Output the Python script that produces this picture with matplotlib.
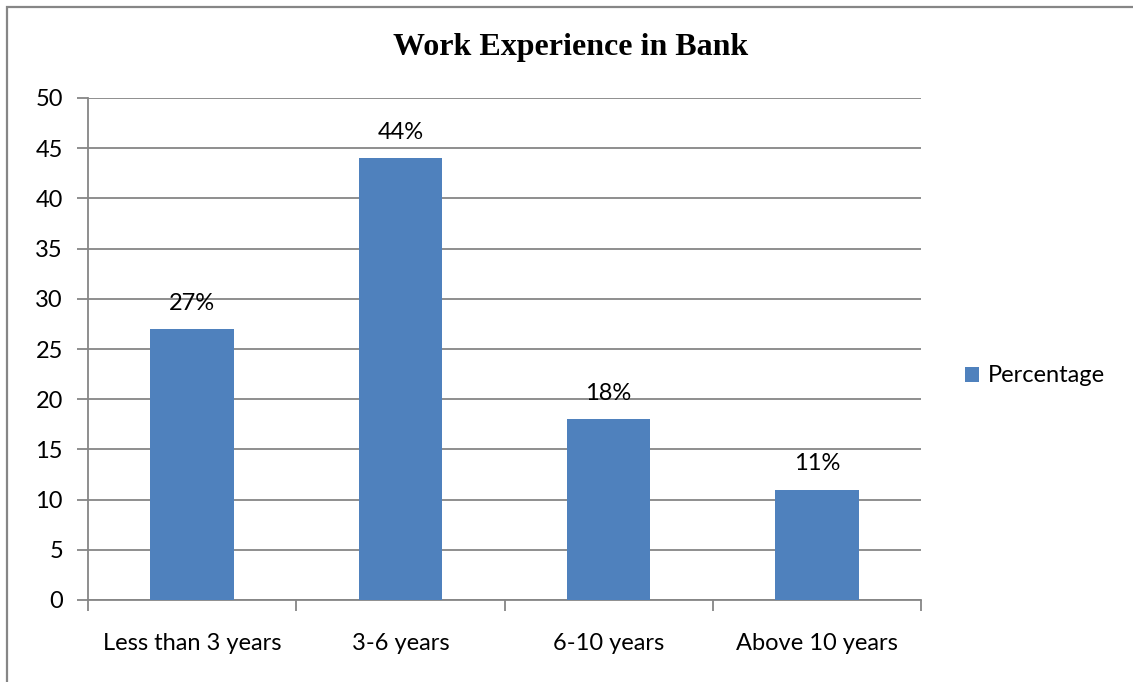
import matplotlib.pyplot as plt
from matplotlib.patches import Rectangle

categories = ["Less than 3 years", "3-6 years", "6-10 years", "Above 10 years"]
percentage = [27, 44, 18, 11]
labels = ["27%", "44%", "18%", "11%"]

W, H = 1133, 682
fig = plt.figure(figsize=(W / 100, H / 100), dpi=100)
ax = fig.add_axes([88 / W, 1 - 600 / H, (921 - 88) / W, (600 - 98) / H])

font = "Lato"
grey = "#868686"
fs = 17

x = range(len(categories))
bars = ax.bar(x, percentage, width=0.4, color="#4F81BD", label="Percentage", zorder=3)
for b, lab in zip(bars, labels):
    ax.annotate(lab, (b.get_x() + b.get_width() / 2, b.get_height()),
                xytext=(0, 11), textcoords="offset points", ha="center", va="bottom",
                fontsize=fs, family=font)

ax.set_xlim(-0.5, 3.5)
ax.set_ylim(0, 50)
ax.set_yticks(range(0, 51, 5))
ax.yaxis.grid(True, color=grey, linewidth=1.3, zorder=0)
for s in ["top", "right"]:
    ax.spines[s].set_visible(False)
for s in ["left", "bottom"]:
    ax.spines[s].set_color(grey)
    ax.spines[s].set_linewidth(1.3)

ax.set_xticks(x)
ax.set_xticklabels(categories, family=font, fontsize=fs)
ax.tick_params(axis="x", length=0, pad=24)
ax.set_xticks([i - 0.5 for i in range(5)], minor=True)
ax.tick_params(axis="x", which="minor", length=8, color=grey, width=1.3)
ax.tick_params(axis="y", length=8, color=grey, width=1.3, pad=10)
for t in ax.get_yticklabels():
    t.set_family(font)
    t.set_fontsize(fs)

fig.text(571 / W, 1 - 47 / H, "Work Experience in Bank", ha="center", va="center",
         family="Liberation Serif", fontweight="bold", fontsize=23)

fig.legend(loc="center left", bbox_to_anchor=(944 / W, 1 - 376 / H), frameon=False,
           prop={"family": font, "size": fs}, handlelength=0.6, handleheight=0.6,
           handletextpad=0.35)

fig.patches.append(Rectangle((7 / W, -0.1), 1.2, 1 - 7 / H + 0.1, transform=fig.transFigure,
                             fill=False, edgecolor=grey, linewidth=1.6))

fig.savefig("out.png", dpi=100)
